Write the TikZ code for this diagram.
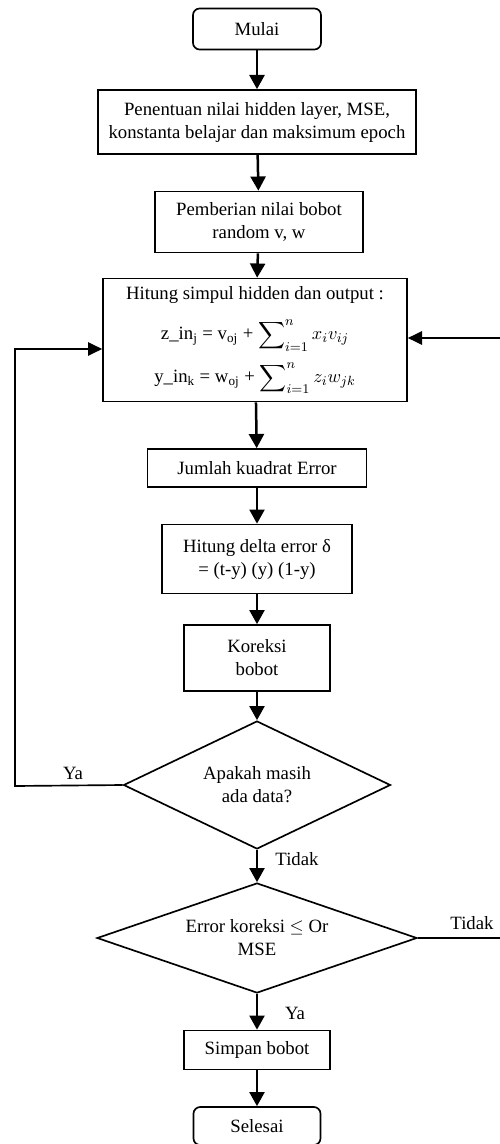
\documentclass[tikz,border=0pt]{standalone}
\usepackage{amsmath, amssymb}
\usepackage{fontspec}
\setmainfont{Liberation Serif}
\usepackage{tikz}
\usetikzlibrary{shapes.geometric, arrows.meta, positioning}

\begin{document}
\begin{tikzpicture}[x=0.6pt, y=-0.6pt,
  font=\fontsize{11.25}{13.8}\selectfont,
  box/.style={draw, line width=1pt, align=center, inner sep=0pt},
  term/.style={box, rounded corners=4pt},
  decision/.style={draw, line width=1pt, diamond, shape aspect=2.5, align=center, inner sep=0pt},
  flow/.style={-{Triangle[width=9pt,length=8.5pt]}, line width=1.5pt},
  back/.style={line width=1pt},
  backflow/.style={back, -{Triangle[width=8pt,length=8.5pt]}}]
  \useasboundingbox (0,0) rectangle (500,1144);

  \node[term, minimum width=76.8pt, minimum height=24.6pt] (Mulai) at (257,29) {Mulai};
  \node[box, minimum width=190.8pt, minimum height=38.4pt] (Input) at (257,122)
    {Penentuan nilai hidden layer, MSE,\\konstanta belajar dan  maksimum epoch};
  \node[box, minimum width=124.8pt, minimum height=36.6pt] (Bobot) at (259,222)
    {Pemberian nilai bobot\\random v, w};
  \node[box, minimum width=182.4pt, minimum height=73.8pt] (Formula) at (255,340)
    {Hitung simpul hidden dan output :\\[9pt]
     z\_in\textsubscript{j} = v\textsubscript{oj} + $\displaystyle\sum\nolimits_{i=1}^{n} x_i v_{ij}$\\[6pt]
     y\_in\textsubscript{k} = w\textsubscript{oj} + $\displaystyle\sum\nolimits_{i=1}^{n} z_i w_{jk}$};
  \node[box, minimum width=131.4pt, minimum height=22.8pt] (Jumlah) at (257,468) {Jumlah kuadrat  Error};
  \node[box, minimum width=114pt, minimum height=41.4pt] (Delta) at (257,559)
    {Hitung delta error δ\\= (t-y) (y) (1-y)};
  \node[box, minimum width=87.6pt, minimum height=39.6pt] (Koreksi) at (257,658) {Koreksi\\bobot};
  \node[decision, minimum width=160.2pt, minimum height=76.8pt] (Cek) at (257,785)
    {Apakah masih\\ada data?};
  \node[decision, minimum width=192pt, minimum height=66pt] (Eval) at (257,938)
    {Error koreksi $\leq$ Or\\MSE};
  \node[box, minimum width=87.6pt, minimum height=23.4pt] (Simpan) at (257,1050) {Simpan bobot};
  \node[term, minimum width=76.2pt, minimum height=22.8pt] (Selesai) at (257,1126) {Selesai};

  % alur utama
  \draw[flow] (Mulai) -- (Input);
  \draw[flow] (Input) -- (Bobot);
  \draw[flow] (Bobot) -- (Formula);
  \draw[flow] (Formula) -- (Jumlah);
  \draw[flow] (Jumlah) -- (Delta);
  \draw[flow] (Delta) -- (Koreksi);
  \draw[flow] (Koreksi) -- (Cek);
  \draw[flow] (Cek) -- (Eval);
  \draw[flow] (Eval) -- (Simpan);
  \draw[flow] (Simpan) -- (Selesai);

  % kembali ke perhitungan
  \coordinate (YaL) at (15,786);
  \coordinate (TidakR) at (500,938);
  \coordinate (BackR) at (500,338);
  \draw[backflow] (Cek.west) -- (YaL) |- ([yshift=-5.4pt]Formula.west);
  \draw[back] (Eval.east) -- (TidakR);
  \draw[backflow] (BackR) -- (BackR -| Formula.east);

  \node (ya1) at (73,773) {Ya};
  \node (tidak1) at (297,859) {Tidak};
  \node (tidak2) at (472,923) {Tidak};
  \node (ya2) at (295,1013) {Ya};
\end{tikzpicture}
\end{document}
